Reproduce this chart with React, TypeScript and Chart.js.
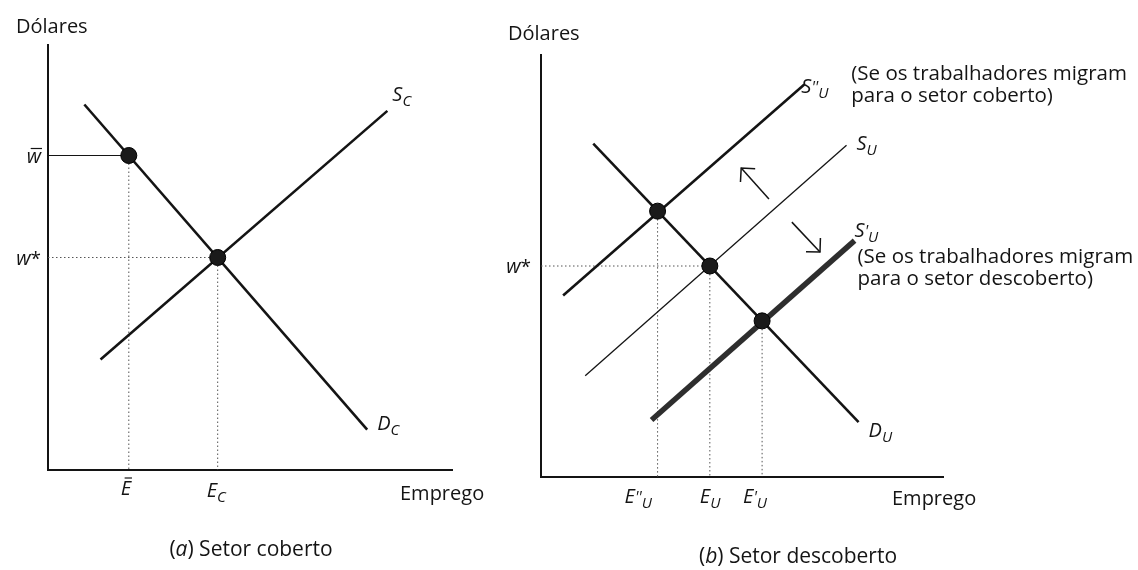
import React, { useEffect, useRef } from "react";
import { Chart, registerables } from "chart.js";

Chart.register(...registerables);

// ---------- Panel (a): Setor coberto ----------
const demandC = [{ x: 0.9, y: 8.6 }, { x: 7.9, y: 0.95 }];
const supplyC = [{ x: 1.3, y: 2.6 }, { x: 8.4, y: 8.45 }];
const wageMinC = 7.4; // w-bar
const empMinC = 2.0; // E-bar
const wageEqC = 5.0; // w*
const empEqC = 4.2; // E_C

// ---------- Panel (b): Setor descoberto ----------
const demandU = [{ x: 1.3, y: 7.9 }, { x: 7.9, y: 1.3 }];
const supplyU = [{ x: 1.1, y: 2.4 }, { x: 7.6, y: 7.86 }];
const supplyU2 = [{ x: 0.55, y: 4.3 }, { x: 6.55, y: 9.3 }]; // S''U
const supplyU1 = [{ x: 2.75, y: 1.35 }, { x: 7.8, y: 5.6 }]; // S'U
const wageEqU = 5.0;
const empU = 4.2;
const empU2 = 2.9;
const wageU2 = 6.3;
const empU1 = 5.5;
const wageU1 = 3.7;
const arrowUp = [{ x: 5.67, y: 6.59 }, { x: 4.98, y: 7.32 }];
const arrowDown = [{ x: 6.24, y: 6.04 }, { x: 6.94, y: 5.33 }];

const FONT = '"Open Sans", "Noto Sans", sans-serif';
const INK = "#141414";
const TXT = 20; // plain text size
const CAP = 21; // caption size
const PAR = 20.5; // paragraph size
const IT = 20; // italic symbol size
const SUB = 15; // subscript size

type Part = { t: string; size: number; italic?: boolean; shift?: number; bar?: number };
type Item = { ax: number; ay: number; dx: number; dy: number; align?: "left" | "center" | "right"; parts: Part[] };

function makeRichTextPlugin(items: Item[]) {
  return {
    id: "richText",
    afterDraw(chart: any) {
      const ctx = chart.ctx;
      const xs = chart.scales.x;
      const ys = chart.scales.y;
      ctx.save();
      ctx.fillStyle = INK;
      ctx.strokeStyle = INK;
      ctx.textBaseline = "alphabetic";
      ctx.textAlign = "left";
      items.forEach((it) => {
        const px = xs.getPixelForValue(it.ax) + it.dx;
        const py = ys.getPixelForValue(it.ay) + it.dy;
        const widths = it.parts.map((p) => {
          ctx.font = `${p.italic ? "italic " : ""}${p.size}px ${FONT}`;
          return ctx.measureText(p.t).width;
        });
        const total = widths.reduce((a, b) => a + b, 0);
        let x = px;
        if (it.align === "center") x = px - total / 2;
        else if (it.align === "right") x = px - total;
        it.parts.forEach((p, i) => {
          ctx.font = `${p.italic ? "italic " : ""}${p.size}px ${FONT}`;
          const y = py + (p.shift || 0);
          ctx.fillText(p.t, x, y);
          if (p.bar) {
            ctx.lineWidth = 1.2;
            ctx.beginPath();
            ctx.moveTo(x + 2 + (p.italic ? 2 : 0), y - p.bar);
            ctx.lineTo(x + widths[i] + (p.italic ? 1 : 0), y - p.bar);
            ctx.stroke();
          }
          x += widths[i];
        });
      });
      ctx.restore();
    },
  };
}

function makeArrowPlugin(arrowIdx: number[]) {
  return {
    id: "arrowHeads",
    afterDatasetsDraw(chart: any) {
      const ctx = chart.ctx;
      arrowIdx.forEach((i) => {
        const pts = chart.getDatasetMeta(i).data;
        const a = pts[pts.length - 2];
        const b = pts[pts.length - 1];
        const ang = Math.atan2(b.y - a.y, b.x - a.x);
        const len = 14;
        ctx.save();
        ctx.strokeStyle = INK;
        ctx.lineWidth = 1.5;
        ctx.beginPath();
        ctx.moveTo(b.x + len * Math.cos(ang + Math.PI - Math.PI / 4), b.y + len * Math.sin(ang + Math.PI - Math.PI / 4));
        ctx.lineTo(b.x, b.y);
        ctx.lineTo(b.x + len * Math.cos(ang + Math.PI + Math.PI / 4), b.y + len * Math.sin(ang + Math.PI + Math.PI / 4));
        ctx.stroke();
        ctx.restore();
      });
    },
  };
}

function curve(data: any[], width: number, color = INK) {
  return { data, showLine: true, borderColor: color, borderWidth: width, pointRadius: 0, fill: false, order: 2, clip: false };
}
function dotted(data: any[]) {
  return { data, showLine: true, borderColor: "#555", borderWidth: 1, borderDash: [1.5, 2.5], pointRadius: 0, fill: false, order: 3, clip: false };
}
function solidThin(data: any[]) {
  return { data, showLine: true, borderColor: INK, borderWidth: 1.2, pointRadius: 0, fill: false, order: 3, clip: false };
}
function dots(data: any[]) {
  return { data, showLine: false, pointRadius: 8, pointBackgroundColor: "#1a1a1a", pointBorderColor: "#000", pointBorderWidth: 1, order: 0, clip: false };
}
function arrow(data: any[]) {
  return { data, showLine: true, borderColor: INK, borderWidth: 1.5, pointRadius: 0, fill: false, order: 1, clip: false };
}

function makeConfig(datasets: any[], items: Item[], padding: any, arrowIdx: number[]) {
  const axis = (isX: boolean) => ({
    type: "linear",
    min: 0,
    max: 10,
    ticks: { display: false },
    grid: { display: false, drawTicks: false },
    border: { display: true, color: INK, width: 2 },
    afterFit: (s: any) => {
      if (isX) s.height = 0;
      else s.width = 0;
    },
  });
  return {
    type: "scatter",
    data: { datasets },
    options: {
      responsive: false,
      animation: false,
      events: [],
      layout: { padding },
      plugins: { legend: { display: false }, tooltip: { enabled: false } },
      scales: { x: axis(true), y: axis(false) },
    },
    plugins: [makeRichTextPlugin(items), makeArrowPlugin(arrowIdx)],
  };
}

const sub = (s: string): Part => ({ t: s, size: SUB, italic: true, shift: 5 });
const sym = (s: string, extra: Partial<Part> = {}): Part => ({ t: s, size: IT, italic: true, ...extra });
const prime = (s: string): Part => ({ t: s, size: 16, italic: true });

function panelA() {
  const datasets = [
    dots([{ x: empMinC, y: wageMinC }, { x: empEqC, y: wageEqC }]),
    curve(demandC, 2.6),
    curve(supplyC, 2.6),
    solidThin([{ x: 0, y: wageMinC }, { x: empMinC, y: wageMinC }]),
    dotted([{ x: empMinC, y: wageMinC }, { x: empMinC, y: 0 }]),
    dotted([{ x: 0, y: wageEqC }, { x: empEqC, y: wageEqC }]),
    dotted([{ x: empEqC, y: wageEqC }, { x: empEqC, y: 0 }]),
  ];
  const items: Item[] = [
    { ax: 0, ay: 10, dx: -32, dy: -12, parts: [{ t: "Dólares", size: TXT }] },
    { ax: 10, ay: 0, dx: -52, dy: 30, parts: [{ t: "Emprego", size: TXT }] },
    { ax: 5, ay: 0, dx: 1, dy: 86, align: "center", parts: [{ t: "(", size: CAP }, { t: "a", size: CAP, italic: true }, { t: ") Setor coberto", size: CAP }] },
    { ax: 0, ay: wageMinC, dx: -7, dy: 7, align: "right", parts: [sym("w", { bar: 14 })] },
    { ax: 0, ay: wageEqC, dx: -7, dy: 7, align: "right", parts: [sym("w"), { t: "*", size: 19 }] },
    { ax: empMinC, ay: 0, dx: -3, dy: 25, align: "center", parts: [sym("E", { bar: 17 })] },
    { ax: empEqC, ay: 0, dx: -11, dy: 27, parts: [sym("E"), sub("C")] },
    { ax: supplyC[1].x, ay: supplyC[1].y, dx: 5, dy: -10, parts: [sym("S"), sub("C")] },
    { ax: demandC[1].x, ay: demandC[1].y, dx: 10, dy: 0, parts: [sym("D"), sub("C")] },
  ];
  return makeConfig(datasets, items, { left: 48, right: 48, top: 45, bottom: 100 }, []);
}

function panelB() {
  const datasets = [
    dots([{ x: empU2, y: wageU2 }, { x: empU, y: wageEqU }, { x: empU1, y: wageU1 }]),
    curve(demandU, 2.6),
    curve(supplyU2, 2.6),
    curve(supplyU, 1.3),
    curve(supplyU1, 5.5, "#2e2e2e"),
    arrow(arrowUp),
    arrow(arrowDown),
    dotted([{ x: 0, y: wageEqU }, { x: empU, y: wageEqU }]),
    dotted([{ x: empU, y: wageEqU }, { x: empU, y: 0 }]),
    dotted([{ x: empU2, y: wageU2 }, { x: empU2, y: 0 }]),
    dotted([{ x: empU1, y: wageU1 }, { x: empU1, y: 0 }]),
  ];
  const items: Item[] = [
    { ax: 0, ay: 10, dx: -33, dy: -15, parts: [{ t: "Dólares", size: TXT }] },
    { ax: 10, ay: 0, dx: -51, dy: 28, parts: [{ t: "Emprego", size: TXT }] },
    { ax: 5, ay: 0, dx: 56, dy: 86, align: "center", parts: [{ t: "(", size: CAP }, { t: "b", size: CAP, italic: true }, { t: ") Setor descoberto", size: CAP }] },
    { ax: 0, ay: wageEqU, dx: -10, dy: 7, align: "right", parts: [sym("w"), { t: "*", size: 19 }] },
    { ax: empU2, ay: 0, dx: -33, dy: 26, parts: [sym("E"), prime("''"), sub("U")] },
    { ax: empU, ay: 0, dx: -10, dy: 26, parts: [sym("E"), sub("U")] },
    { ax: empU1, ay: 0, dx: -19, dy: 26, parts: [sym("E"), prime("'"), sub("U")] },
    { ax: supplyU2[1].x, ay: supplyU2[1].y, dx: -3, dy: 8, parts: [sym("S"), prime("''"), sub("U")] },
    { ax: supplyU2[1].x, ay: supplyU2[1].y, dx: 47, dy: -5, parts: [{ t: "(Se os trabalhadores migram", size: PAR }] },
    { ax: supplyU2[1].x, ay: supplyU2[1].y, dx: 47, dy: 17, parts: [{ t: "para o setor coberto)", size: PAR }] },
    { ax: supplyU[1].x, ay: supplyU[1].y, dx: 10, dy: 5, parts: [sym("S"), sub("U")] },
    { ax: supplyU1[1].x, ay: supplyU1[1].y, dx: 0, dy: -4, parts: [sym("S"), prime("'"), sub("U")] },
    { ax: supplyU1[1].x, ay: supplyU1[1].y, dx: 3, dy: 22, parts: [{ t: "(Se os trabalhadores migram", size: PAR }] },
    { ax: supplyU1[1].x, ay: supplyU1[1].y, dx: 3, dy: 44, parts: [{ t: "para o setor descoberto)", size: PAR }] },
    { ax: demandU[1].x, ay: demandU[1].y, dx: 10, dy: 15, parts: [sym("D"), sub("U")] },
  ];
  return makeConfig(datasets, items, { left: 41, right: 195, top: 55, bottom: 93 }, [5, 6]);
}

function ChartCanvas({ config, left, width }: { config: () => any; left: number; width: number }) {
  const ref = useRef<HTMLCanvasElement | null>(null);
  useEffect(() => {
    if (!ref.current) return;
    const chart = new Chart(ref.current, config() as any);
    return () => chart.destroy();
  }, []);
  return (
    <canvas
      ref={ref}
      width={width}
      height={570}
      style={{ position: "absolute", left, top: 0, width, height: 570 }}
    />
  );
}

export default function App() {
  return (
    <div style={{ position: "absolute", left: 0, top: 0, width: 1138, height: 570, background: "#fff", overflow: "hidden" }}>
      <ChartCanvas config={panelA} left={0} width={500} />
      <ChartCanvas config={panelB} left={500} width={638} />
    </div>
  );
}
